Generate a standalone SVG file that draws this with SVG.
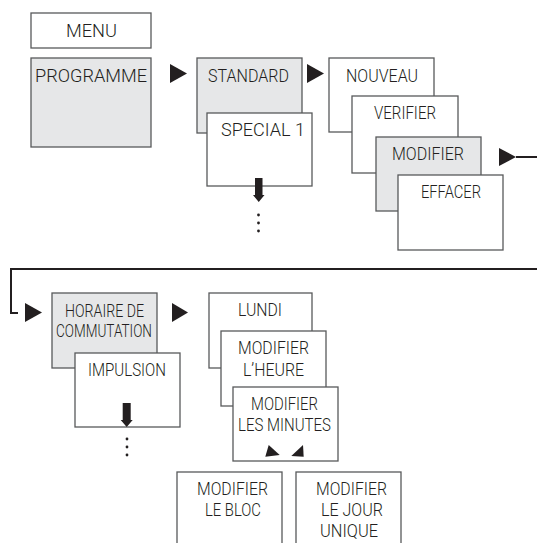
<svg xmlns="http://www.w3.org/2000/svg" width="537" height="543" viewBox="0 0 537 543">
<style>
.b{fill:#fff;stroke:#58595b;stroke-width:1.3}
.g{fill:#e6e7e8;stroke:#58595b;stroke-width:1.3}
text{font-family:Roboto,"Liberation Sans",sans-serif;font-size:18px;font-weight:300;fill:#231f20}
.a{fill:#231f20}
.ln{fill:none;stroke:#231f20;stroke-width:2}
</style>
<rect width="537" height="543" fill="#fff"/>
<g id="menu"><rect class="b" x="31" y="13" width="120" height="35"/><text x="66" y="37" textLength="51" lengthAdjust="spacingAndGlyphs">MENU</text></g>
<g id="programme"><rect class="g" x="31" y="58" width="120" height="89"/><text x="35" y="82" textLength="112" lengthAdjust="spacingAndGlyphs">PROGRAMME</text></g>
<g id="standard"><rect class="g" x="197" y="58" width="105" height="75"/><text x="208" y="82" textLength="81" lengthAdjust="spacingAndGlyphs">STANDARD</text></g>
<g id="special1"><rect class="b" x="207" y="113" width="105" height="73"/><text x="221" y="136" textLength="84" lengthAdjust="spacingAndGlyphs">SPECIAL 1</text>
<polygon class="a" points="255,178 262.5,178 262.5,195 264.5,195 258.75,202 253,195 255,195"/>
<circle class="a" cx="258.5" cy="215" r="1.4"/><circle class="a" cx="258.5" cy="223" r="1.4"/><circle class="a" cx="258.5" cy="231" r="1.4"/></g>
<g id="nouveau"><rect class="b" x="329" y="58" width="105" height="74"/><text x="346" y="82" textLength="72" lengthAdjust="spacingAndGlyphs">NOUVEAU</text></g>
<g id="verifier"><rect class="b" x="352" y="96" width="106" height="77"/><text x="374" y="119" textLength="62" lengthAdjust="spacingAndGlyphs">VERIFIER</text></g>
<g id="modifier"><rect class="g" x="376" y="137" width="105" height="74"/><text x="392" y="160" textLength="72" lengthAdjust="spacingAndGlyphs">MODIFIER</text></g>
<g id="effacer"><rect class="b" x="398" y="175" width="105" height="75"/><text x="421" y="198" textLength="60" lengthAdjust="spacingAndGlyphs">EFFACER</text></g>
<g id="horaire"><rect class="g" x="52" y="293" width="105" height="75"/><text x="65" y="317" textLength="79" lengthAdjust="spacingAndGlyphs">HORAIRE DE</text><text x="56" y="337" textLength="96" lengthAdjust="spacingAndGlyphs">COMMUTATION</text></g>
<g id="impulsion"><rect class="b" x="75" y="353" width="105" height="74"/><text x="88" y="376" textLength="78" lengthAdjust="spacingAndGlyphs">IMPULSION</text>
<polygon class="a" points="122.7,403 130.7,403 130.7,420 132.7,420 126.7,427 120.7,420 122.7,420"/>
<circle class="a" cx="127" cy="439" r="1.4"/><circle class="a" cx="127" cy="447" r="1.4"/><circle class="a" cx="127" cy="455" r="1.4"/></g>
<g id="lundi"><rect class="b" x="209" y="293" width="103" height="75"/><text x="238" y="316" textLength="44" lengthAdjust="spacingAndGlyphs">LUNDI</text></g>
<g id="heure"><rect class="b" x="221" y="331" width="105" height="75"/><text x="238" y="354" textLength="71" lengthAdjust="spacingAndGlyphs">MODIFIER</text><text x="243" y="376" textLength="61" lengthAdjust="spacingAndGlyphs">L’HEURE</text></g>
<g id="minutes"><rect class="b" x="233" y="387" width="105" height="74"/><text x="251" y="410" textLength="67" lengthAdjust="spacingAndGlyphs">MODIFIER</text><text x="238" y="431" textLength="93" lengthAdjust="spacingAndGlyphs">LES MINUTES</text>
<polygon class="a" points="265.3,456.7 268.7,445 279.7,455"/><polygon class="a" points="291.3,456 303,445 303.7,456.7"/></g>
<g id="bloc"><rect class="b" x="177" y="472" width="105" height="80"/><text x="197" y="495" textLength="71" lengthAdjust="spacingAndGlyphs">MODIFIER</text><text x="205" y="516" textLength="56" lengthAdjust="spacingAndGlyphs">LE BLOC</text></g>
<g id="jour"><rect class="b" x="296" y="472" width="105" height="80"/><text x="316" y="495" textLength="71" lengthAdjust="spacingAndGlyphs">MODIFIER</text><text x="321" y="516" textLength="62" lengthAdjust="spacingAndGlyphs">LE JOUR</text><text x="320" y="537" textLength="58" lengthAdjust="spacingAndGlyphs">UNIQUE</text></g>
<g id="connectors">
<polygon class="a" points="170,64 187,73.5 170,83"/>
<polygon class="a" points="307,64 324,73.5 307,83"/>
<polygon class="a" points="499,148 516,157 499,166"/>
<line class="ln" x1="516" y1="157" x2="537" y2="157"/>
<polyline class="ln" points="537,269 11,269 11,313 18,313"/>
<polygon class="a" points="25,303 42,312.5 25,322"/>
<polygon class="a" points="172,303 188,312.5 172,322"/>
</g>
</svg>
